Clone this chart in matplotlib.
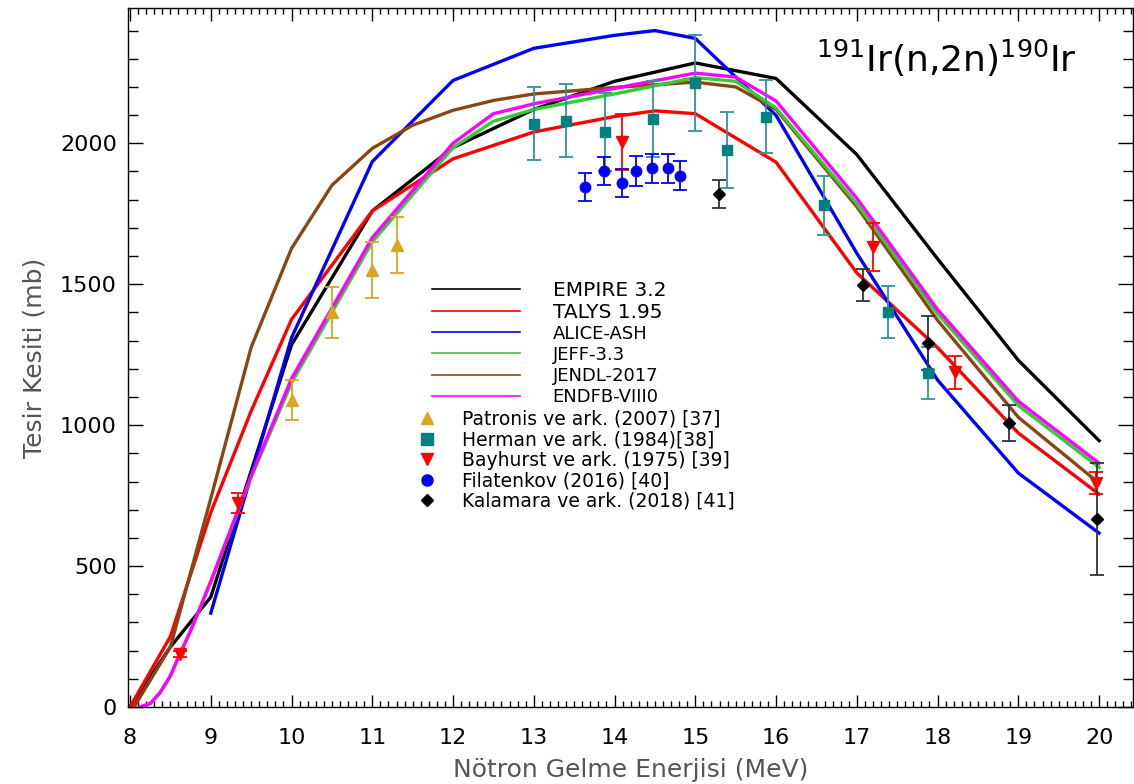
import numpy as np
import matplotlib.pyplot as plt
from matplotlib.lines import Line2D
from matplotlib.ticker import MultipleLocator

# model curves (energy in MeV, cross section in mb)
e_empire = [8, 8.5, 9, 10, 11, 12, 13, 14, 15, 16, 17, 18, 19, 20]
s_empire = [0, 213, 390, 1285, 1760, 1985, 2120, 2220, 2285, 2230, 1960, 1590, 1230, 945]

e_talys = [8, 8.5, 9, 9.5, 10, 11, 12, 13, 14, 14.5, 15, 16, 17, 18, 19, 20]
s_talys = [0, 250, 690, 1050, 1375, 1760, 1945, 2040, 2095, 2115, 2105, 1933, 1540, 1275, 972, 755]

e_alice = [9, 10, 11, 12, 13, 14, 14.5, 15, 16, 17, 18, 19, 20]
s_alice = [333, 1310, 1935, 2223, 2337, 2383, 2400, 2372, 2099, 1610, 1160, 830, 617]

e_eval = [8.12, 8.25, 8.37, 8.5, 8.62, 8.75, 9, 9.5, 10, 11, 12, 12.5, 13, 14, 15, 15.5, 16, 17, 18, 19, 20]
s_jeff = [0, 12, 50, 110, 190, 270, 445, 815, 1150, 1650, 1985, 2078, 2120, 2175, 2233, 2220, 2125, 1785, 1395, 1070, 850]
s_endf = [0, 12, 50, 110, 190, 270, 445, 820, 1165, 1665, 2000, 2105, 2140, 2195, 2249, 2235, 2150, 1805, 1410, 1085, 865]

e_jendl = [8.05, 8.5, 9, 9.5, 10, 10.5, 11, 11.5, 12, 12.5, 13, 14, 15, 15.5, 16, 17, 18, 19, 20]
s_jendl = [0, 213, 740, 1276, 1627, 1851, 1982, 2064, 2117, 2152, 2175, 2198, 2217, 2200, 2120, 1775, 1372, 1028, 794]

# experimental data
e_patronis = [10.0, 10.5, 11.0, 11.3]
s_patronis = [1090, 1400, 1550, 1640]
d_patronis = [70, 90, 100, 100]

e_herman = [13.0, 13.4, 13.88, 14.47, 15.0, 15.39, 15.88, 16.59, 17.38, 17.88]
s_herman = [2070, 2080, 2040, 2085, 2215, 1975, 2095, 1780, 1400, 1185]
d_herman = [130, 130, 140, 135, 170, 135, 130, 105, 92, 94]

e_bayhurst = [8.62, 9.34, 14.09, 17.2, 18.21, 19.96]
s_bayhurst = [188, 725, 2005, 1631, 1188, 794]
d_bayhurst = [12, 35, 100, 85, 58, 40]

e_filat = [13.63, 13.87, 14.09, 14.26, 14.46, 14.66, 14.81]
s_filat = [1846, 1902, 1858, 1902, 1911, 1911, 1885]
d_filat = [50, 50, 50, 52, 52, 52, 52]

e_kalamara = [15.29, 17.08, 17.88, 18.89, 19.98]
s_kalamara = [1819, 1496, 1291, 1007, 667]
d_kalamara = [50, 57, 95, 65, 198]

fig = plt.figure(figsize=(11.34, 7.84), dpi=100)
ax = fig.add_axes([128 / 1134, 1 - 707 / 784, 1005 / 1134, 699 / 784])

lw = 2.4
ax.plot(e_empire, s_empire, color="black", lw=lw)
ax.plot(e_talys, s_talys, color="#ff0000", lw=lw)
ax.plot(e_alice, s_alice, color="#0000ff", lw=lw)
ax.plot(e_jendl, s_jendl, color="#8b4513", lw=lw)
ax.plot(e_eval, s_jeff, color="#33cc33", lw=lw)
ax.plot(e_eval, s_endf, color="#ff00ff", lw=lw)

ax.errorbar(e_patronis, s_patronis, yerr=d_patronis, fmt="^", color="#daa520",
            ms=8, capsize=5, elinewidth=1.3, capthick=1.3)
ax.errorbar(e_herman, s_herman, yerr=d_herman, fmt="s", color="#008080", ecolor="#2e9595",
            ms=7.5, capsize=5, elinewidth=1.3, capthick=1.3)
ax.errorbar(e_bayhurst, s_bayhurst, yerr=d_bayhurst, fmt="v", color="#ff0000",
            ms=8, capsize=5, elinewidth=1.3, capthick=1.3)
ax.errorbar(e_filat, s_filat, yerr=d_filat, fmt="o", color="#0000ff",
            ms=7.5, capsize=5, elinewidth=1.3, capthick=1.3)
ax.errorbar(e_kalamara, s_kalamara, yerr=d_kalamara, fmt="D", color="black", ecolor="#333333",
            ms=6, capsize=5, elinewidth=1.3, capthick=1.3)

ax.set_xlim(7.975, 20.42)
ax.set_ylim(0, 2480)
ax.xaxis.set_major_locator(MultipleLocator(1))
ax.xaxis.set_minor_locator(MultipleLocator(0.1))
ax.yaxis.set_major_locator(MultipleLocator(500))
ax.yaxis.set_minor_locator(MultipleLocator(100))
ax.tick_params(which="both", direction="in", top=True, right=True, labelsize=16, width=1)
ax.tick_params(axis="x", which="major", length=9, pad=15)
ax.tick_params(axis="x", which="minor", length=4.5)
ax.tick_params(axis="y", which="major", length=11, pad=8)
ax.tick_params(axis="y", which="minor", length=7)
for s in ax.spines.values():
    s.set_linewidth(1)

ax.set_xlabel("Nötron Gelme Enerjisi (MeV)", fontsize=18, color="#555555", labelpad=7)
ax.set_ylabel("Tesir Kesiti (mb)", fontsize=18, color="#555555", labelpad=10)

ax.text(0.944, 0.928, r"$^{191}$Ir(n,2n)$^{190}$Ir", transform=ax.transAxes,
        fontsize=26, ha="right", va="center")

line_handles = [
    Line2D([], [], color="black", lw=1.2),
    Line2D([], [], color="#ff0000", lw=1.2),
    Line2D([], [], color="#0000ff", lw=1.2),
    Line2D([], [], color="#33cc33", lw=1.2),
    Line2D([], [], color="#8b4513", lw=1.2),
    Line2D([], [], color="#ff00ff", lw=1.2),
]
line_labels = ["EMPIRE 3.2", "TALYS 1.95", "ALICE-ASH", "JEFF-3.3", "JENDL-2017", "ENDFB-VIII0"]
leg1 = ax.legend(line_handles, line_labels, loc="upper left", bbox_to_anchor=(0.3025, 0.61),
                 frameon=False, fontsize=13, handlelength=4.9, handletextpad=1.78,
                 labelspacing=0.17, borderpad=0, borderaxespad=0)
for t in leg1.get_texts()[:2]:
    t.set_fontsize(14.5)
ax.add_artist(leg1)

mark_handles = [
    Line2D([], [], ls="none", marker="^", color="#daa520", ms=9),
    Line2D([], [], ls="none", marker="s", color="#008080", ms=8),
    Line2D([], [], ls="none", marker="v", color="#ff0000", ms=9),
    Line2D([], [], ls="none", marker="o", color="#0000ff", ms=8),
    Line2D([], [], ls="none", marker="D", color="black", ms=6.5),
]
mark_labels = ["Patronis ve ark. (2007) [37]", "Herman ve ark. (1984)[38]",
               "Bayhurst ve ark. (1975) [39]", "Filatenkov (2016) [40]",
               "Kalamara ve ark. (2018) [41]"]
ax.legend(mark_handles, mark_labels, loc="upper left", bbox_to_anchor=(0.288, 0.425),
          frameon=False, fontsize=13.5, handlelength=1.0, handletextpad=1.37,
          labelspacing=0.08, borderpad=0, borderaxespad=0)

fig.savefig("out.png", dpi=100)
